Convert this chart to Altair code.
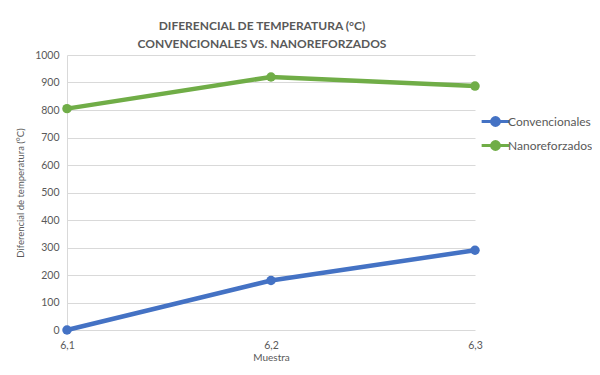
import altair as alt
import pandas as pd

muestras = [6.1, 6.2, 6.3]
convencionales = [0, 180, 290]
nanoreforzados = [805, 920, 887]
series = ["Convencionales", "Nanoreforzados"]
colores = ["#4472C4", "#70AD47"]

rows = []
for m, v in zip(muestras, convencionales):
    rows.append({"Muestra": m, "Valor": v, "Serie": series[0]})
for m, v in zip(muestras, nanoreforzados):
    rows.append({"Muestra": m, "Valor": v, "Serie": series[1]})
df = pd.DataFrame(rows)

FONT = "Lato"
GRAY = "#595959"

color = alt.Color(
    "Serie:N",
    scale=alt.Scale(domain=series, range=colores),
    legend=alt.Legend(
        title=None,
        orient="none",
        legendX=418,
        legendY=56,
        symbolType="M-1.6,0L1.6,0M-0.45,0A0.45,0.45 0 1,0 0.45,0A0.45,0.45 0 1,0 -0.45,0",
        symbolSize=300,
        symbolStrokeWidth=3,
        labelFont=FONT,
        labelFontSize=12,
        labelColor=GRAY,
        rowPadding=3,
        labelOffset=2,
    ),
)

x = alt.X(
    "Muestra:Q",
    scale=alt.Scale(domain=[6.1, 6.3], nice=False, zero=False),
    axis=alt.Axis(
        values=muestras,
        labelExpr="replace(format(datum.value, '.1f'), '.', ',')",
        title="Muestra",
        grid=False,
        ticks=False,
        domain=False,
        labelPadding=10,
        titlePadding=2,
        labelFlush=False,
    ),
)
y = alt.Y(
    "Valor:Q",
    scale=alt.Scale(domain=[0, 1000], nice=False),
    axis=alt.Axis(
        values=list(range(0, 1001, 100)),
        format="d",
        title="Diferencial de temperatura (°C)",
        ticks=False,
        domain=True,
        domainColor="#d9d9d9",
        gridColor="#d9d9d9",
        labelPadding=8,
        titlePadding=9,
        titleFontSize=9.5,
    ),
)

base = alt.Chart(df).encode(x=x, y=y, color=color)
lines = base.mark_line(strokeWidth=4.5)
points = base.mark_point(filled=True, size=90, opacity=1)

chart = (
    alt.layer(lines, points)
    .properties(
        width=408,
        height=275,
        autosize=alt.AutoSizeParams(type="none"),
        padding={"left": 59, "top": 47, "right": 117, "bottom": 37},
        title=alt.TitleParams(
            text=["DIFERENCIAL DE TEMPERATURA (°C)", "CONVENCIONALES VS. NANOREFORZADOS"],
            font=FONT,
            fontSize=12,
            fontWeight="bold",
            color=GRAY,
            anchor="middle",
            dx=-9,
            offset=-1,
            lineHeight=18,
        ),
    )
    .configure_view(stroke=None)
    .configure_axis(
        labelFont=FONT,
        labelFontSize=10.5,
        labelColor=GRAY,
        titleFont=FONT,
        titleFontSize=10,
        titleColor=GRAY,
        titleFontWeight="normal",
    )
)

chart.save("out.html", embed_options={"renderer": "svg", "actions": False})
